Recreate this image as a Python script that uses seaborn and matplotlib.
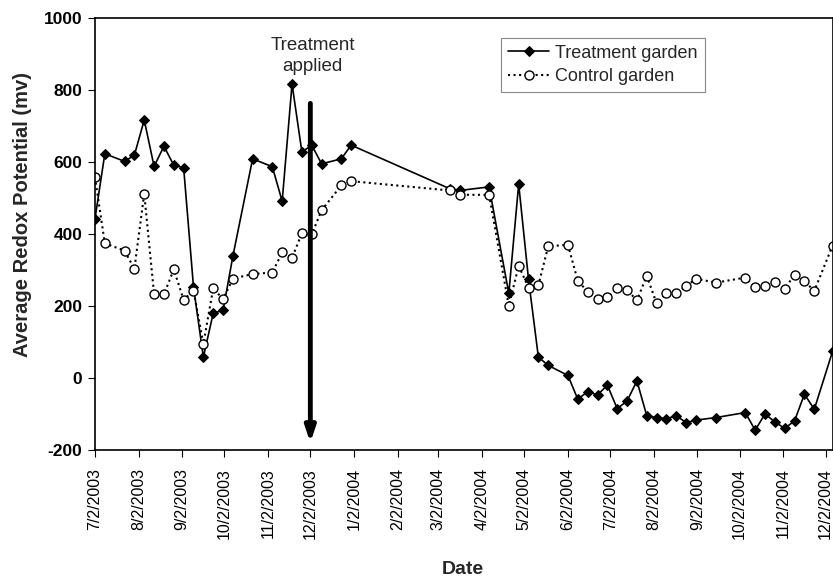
import matplotlib
matplotlib.use("Agg")
import matplotlib.pyplot as plt
import matplotlib.dates as mdates
import seaborn as sns
import pandas as pd
import numpy as np

dates = ["2003-07-02", "2003-07-09", "2003-07-23", "2003-07-30", "2003-08-06", "2003-08-13",
         "2003-08-20", "2003-08-27", "2003-09-03", "2003-09-10", "2003-09-17", "2003-09-24",
         "2003-10-01", "2003-10-08", "2003-10-22", "2003-11-05", "2003-11-12", "2003-11-19",
         "2003-11-26", "2003-12-03", "2003-12-10", "2003-12-24", "2003-12-31", "2004-03-10",
         "2004-03-17", "2004-04-07", "2004-04-21", "2004-04-28", "2004-05-05", "2004-05-12",
         "2004-05-19", "2004-06-02", "2004-06-09", "2004-06-16", "2004-06-23", "2004-06-30",
         "2004-07-07", "2004-07-14", "2004-07-21", "2004-07-28", "2004-08-04", "2004-08-11",
         "2004-08-18", "2004-08-25", "2004-09-01", "2004-09-15", "2004-10-06", "2004-10-13",
         "2004-10-20", "2004-10-27", "2004-11-03", "2004-11-10", "2004-11-17", "2004-11-24",
         "2004-12-07"]

treatment = [442, 623, 602, 619, 717, 588, 644, 591, 584, 253, 58, 180, 188, 339, 609, 587,
             491, 817, 628, 647, 595, 609, 647, 526, 521, 531, 235, 539, 274, 58, 35, 7,
             -59, -38, -47, -20, -85, -64, -8, -105, -110, -113, -105, -124, -117, -110,
             -96, -145, -100, -122, -140, -119, -45, -87, 74]

control = [558, 374, 354, 303, 512, 233, 232, 302, 217, 243, 95, 249, 219, 276, 289, 293,
           349, 334, 402, 399, 466, 535, 547, 521, 509, 509, 200, 312, 251, 258, 366, 370,
           270, 240, 220, 224, 250, 244, 216, 284, 207, 235, 235, 255, 276, 265, 279, 253,
           257, 266, 248, 287, 269, 242, 368]

tick_dates = ["2003-07-02", "2003-08-02", "2003-09-02", "2003-10-02", "2003-11-02", "2003-12-02",
              "2004-01-02", "2004-02-02", "2004-03-02", "2004-04-02", "2004-05-02", "2004-06-02",
              "2004-07-02", "2004-08-02", "2004-09-02", "2004-10-02", "2004-11-02", "2004-12-02"]
tick_labels = ["7/2/2003", "8/2/2003", "9/2/2003", "10/2/2003", "11/2/2003", "12/2/2003",
               "1/2/2004", "2/2/2004", "3/2/2004", "4/2/2004", "5/2/2004", "6/2/2004",
               "7/2/2004", "8/2/2004", "9/2/2004", "10/2/2004", "11/2/2004", "12/2/2004"]

y_ticks = [-200, 0, 200, 400, 600, 800, 1000]

arrow_date = "2003-12-02"
arrow_top, arrow_bottom = 763, -180

sns.set_style("ticks")
plt.rcParams["font.family"] = ["Liberation Sans", "DejaVu Sans"]

df = pd.DataFrame({"Date": pd.to_datetime(dates), "Treatment garden": treatment,
                   "Control garden": control})

fig = plt.figure(figsize=(8.33, 5.84), dpi=100)
ax = fig.add_axes([0.114, 0.2295, 0.8855, 0.7395])

sns.lineplot(data=df, x="Date", y="Treatment garden", ax=ax, color="black", lw=1.2,
             marker="D", markersize=5.5, markerfacecolor="black", markeredgecolor="black",
             label="Treatment garden")
sns.lineplot(data=df, x="Date", y="Control garden", ax=ax, color="black", lw=1.5,
             linestyle=":", marker="o", markersize=6.5, markerfacecolor="white",
             markeredgecolor="black", markeredgewidth=1.0, label="Control garden")

ad = mdates.date2num(pd.Timestamp(arrow_date))
ax.annotate("", xy=(ad, arrow_bottom), xytext=(ad, arrow_top),
            arrowprops=dict(arrowstyle="-|>,head_width=0.3,head_length=0.9",
                            lw=3.5, color="black", shrinkA=0, shrinkB=0))
ax.text(ad + 1.5, 895, "Treatment\napplied", ha="center", va="center", fontsize=13.5,
        linespacing=1.25)

ax.set_xlim(pd.Timestamp("2003-07-02"), pd.Timestamp("2004-12-07"))
ax.set_ylim(-200, 1000)
ax.set_xticks(pd.to_datetime(tick_dates))
ax.set_xticklabels(tick_labels, rotation=90, fontsize=11.5)
ax.set_yticks(y_ticks)
ax.set_yticklabels([str(v) for v in y_ticks], fontsize=12.5, fontweight="bold")
ax.tick_params(axis="both", direction="out", length=5, width=0.8, colors="black")
ax.tick_params(axis="x", pad=8)
ax.tick_params(axis="y", pad=4)

ax.set_ylabel("Average Redox Potential (mv)", fontsize=14.5, fontweight="bold")
ax.yaxis.set_label_coords(-0.086, 0.545)
ax.set_xlabel("")
fig.text(0.556, 0.024, "Date", ha="center", va="center", fontsize=14, fontweight="bold",
         family=["Liberation Sans Narrow", "Liberation Sans"])

for s in ax.spines.values():
    s.set_visible(True)
    s.set_color("black")
    s.set_linewidth(1.2)

leg = ax.legend(loc="upper left", bbox_to_anchor=(0.55, 0.955), fontsize=13,
                frameon=True, fancybox=False, edgecolor="#888888", framealpha=1,
                handlelength=2.3, borderpad=0.4, labelspacing=0.35, handletextpad=0.3,
                borderaxespad=0)
leg.get_frame().set_linewidth(0.8)

fig.savefig("out.png", dpi=100)
